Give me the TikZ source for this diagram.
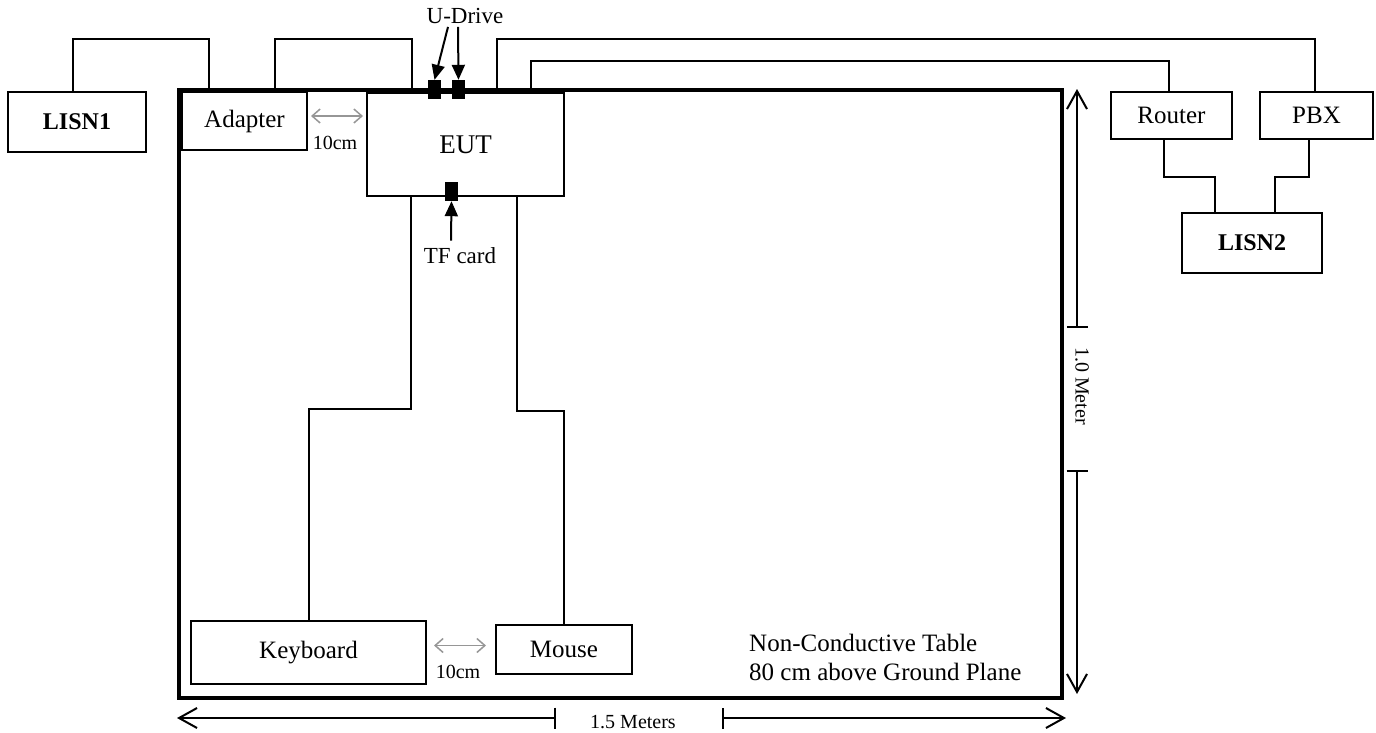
\documentclass[tikz,border=0pt]{standalone}
\usepackage{fontspec}
\setmainfont{Liberation Serif}
\usepackage{tikz}
\usetikzlibrary{arrows.meta,calc}
\definecolor{GapGray}{RGB}{150,150,150}

\begin{document}
\begin{tikzpicture}[x=1pt, y=-1pt,
  box/.style={draw, line width=2pt, inner sep=0pt, font=\fontsize{25}{28}\selectfont},
  port/.style={fill=black, inner sep=0pt, minimum width=13pt, minimum height=19pt},
  cable/.style={line width=2pt},
  pointer/.style={line width=2pt, -{Triangle[length=15pt, width=13pt]}},
  gaparrow/.style={GapGray, line width=1.5pt,
    {Straight Barb[length=8pt, width=14pt]}-{Straight Barb[length=8pt, width=14pt]}},
  dimarrow/.style={line width=2pt, {Bar[width=21pt]}-{Straight Barb[length=18pt, width=20pt]}},
  small/.style={font=\fontsize{20}{24}\selectfont, inner sep=0pt}]

  \useasboundingbox (0,0) rectangle (1376,732);

  % --- Table ---
  \draw[line width=4pt] (179,90) rectangle (1062,698);
  \node[anchor=west, align=left, inner sep=0pt, font=\fontsize{25}{29}\selectfont]
    (tablenote) at (749,657) {Non-Conductive Table\\80 cm above Ground Plane};

  % --- Boxes ---
  \node[box, font=\bfseries\fontsize{24}{28}\selectfont, minimum width=138pt, minimum height=60pt]
    (lisn1) at (77,122) {LISN1};
  \node[box, minimum width=125pt, minimum height=58pt] (adapter) at (244.5,121) {Adapter};
  \node[box, font=\fontsize{27}{30}\selectfont, minimum width=197pt, minimum height=103pt]
    (eut) at (465.5,144.5) {EUT};
  \node[box, minimum width=121pt, minimum height=47pt] (router) at (1171.5,115.5) {Router};
  \node[box, minimum width=113pt, minimum height=47pt] (pbx) at (1316.5,115.5) {PBX};
  \node[box, font=\bfseries\fontsize{24}{28}\selectfont, minimum width=140pt, minimum height=60pt]
    (lisn2) at (1252,243) {LISN2};
  \node[box, minimum width=235pt, minimum height=63pt] (keyboard) at (308.5,652.5) {Keyboard};
  \node[box, minimum width=136pt, minimum height=49pt] (mouse) at (564,649.5) {Mouse};

  % --- Ports on the EUT ---
  \node[port] (ud1) at (434.5,89.5) {};
  \node[port] (ud2) at (458.5,89.5) {};
  \node[port] (tf) at (451.5,191.5) {};
  \node[inner sep=0pt, font=\fontsize{23}{26}\selectfont] (udrive) at (465,16) {U-Drive};
  \node[inner sep=0pt, font=\fontsize{23}{26}\selectfont] (tfcard) at (460,256) {TF card};
  \draw[pointer] ([xshift=-17pt, yshift=-3pt]udrive.south) -- (ud1.north);
  \draw[pointer] ([xshift=-7pt, yshift=-3pt]udrive.south) -- (ud2.north);
  \draw[pointer] ([xshift=-9pt, yshift=7pt]tfcard.north) -- (tf.south);

  % --- Cables ---
  \draw[cable] ($(lisn1.north)+(-4,0)$) -- ++(0,-52) -| ($(adapter.north west)+(28,0)$);
  \draw[cable] ($(adapter.north east)+(-33,0)$) -- ++(0,-52) -| ($(eut.north west)+(46,0)$);
  \draw[cable] ($(eut.north west)+(131,0)$) -- ++(0,-53) -| ($(pbx.north)+(-2,0)$);
  \draw[cable] ($(eut.north west)+(165,0)$) -- ++(0,-31) -| ($(router.north)+(-3,0)$);
  \draw[cable] ($(router.south)+(-8,0)$) -- ++(0,37) -| ($(lisn2.north)+(-37,0)$);
  \draw[cable] ($(pbx.south)+(-8,0)$) -- ++(0,37) -| ($(lisn2.north)+(23,0)$);
  \draw[cable] ($(eut.south west)+(45,0)$) -- ++(0,212) -| (keyboard.north);
  \draw[cable] ($(eut.south west)+(151,0)$) -- ++(0,214) -| (mouse.north);

  % --- 10cm gaps ---
  \draw[gaparrow] ($(adapter.east)+(3,-5)$) -- ($(adapter.east -| eut.west)+(-3,-5)$);
  \node[small] (gap1) at (335,143) {10cm};
  \draw[gaparrow] ($(keyboard.east)+(7,-7)$) -- ($(keyboard.east -| mouse.west)+(-9,-7)$);
  \node[small] (gap2) at (458,672) {10cm};

  % --- Dimensions ---
  \coordinate (lenL) at (556,718);
  \coordinate (lenLtip) at (177,718);
  \coordinate (lenR) at (722,718);
  \coordinate (lenRtip) at (1066,718);
  \node[small] (len) at (633,722) {1.5 Meters};
  \draw[dimarrow] (lenL) -- (lenLtip);
  \draw[dimarrow] (lenR) -- (lenRtip);

  \coordinate (widT) at (1077,328);
  \coordinate (widTtip) at (1077,89);
  \coordinate (widB) at (1077,470);
  \coordinate (widBtip) at (1077,694);
  \node[small, rotate=-90] (wid) at (1082,386) {1.0 Meter};
  \draw[dimarrow] (widT) -- (widTtip);
  \draw[dimarrow] (widB) -- (widBtip);

\end{tikzpicture}
\end{document}
